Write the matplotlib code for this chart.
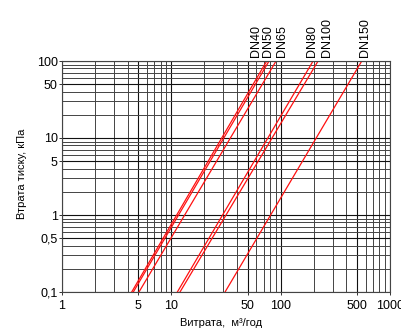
import matplotlib
matplotlib.use("Agg")
import matplotlib.pyplot as plt
from matplotlib.ticker import FixedLocator, LogLocator, NullFormatter

plt.rcParams["font.family"] = ["Liberation Sans", "DejaVu Sans"]

# data: flow (m3/h) at pressure drop 0.1 kPa and 100 kPa
dp = [0.1, 100]
names = ["DN40", "DN50", "DN65", "DN80", "DN100", "DN150"]
flow_lo = [4.34, 4.49, 5.06, 11.35, 12.0, 31.0]
flow_hi = [74.6, 78.3, 90.8, 198.0, 220.0, 552.0]

x_ticks = [1, 5, 10, 50, 100, 500, 1000]
x_labels = ["1", "5", "10", "50", "100", "500", "1000"]
y_ticks = [0.1, 0.5, 1, 5, 10, 50, 100]
y_labels = ["0,1", "0,5", "1", "5", "10", "50", "100"]

# where the DN captions sit (x, data units), spread apart to avoid overlap
label_x = [60, 77, 103, 193, 264, 592]

fig = plt.figure(figsize=(4.01, 3.36), dpi=100)
ax = fig.add_axes([62 / 401, 44 / 336, 328 / 401, 231 / 336])
ax.set_xscale("log")
ax.set_yscale("log")
ax.set_xlim(1, 1000)
ax.set_ylim(0.1, 100)

ax.xaxis.set_major_locator(FixedLocator(x_ticks))
ax.set_xticklabels(x_labels)
ax.yaxis.set_major_locator(FixedLocator(y_ticks))
ax.set_yticklabels(y_labels)
ax.xaxis.set_minor_locator(LogLocator(base=10, subs=range(2, 10)))
ax.yaxis.set_minor_locator(LogLocator(base=10, subs=range(2, 10)))
ax.xaxis.set_minor_formatter(NullFormatter())
ax.yaxis.set_minor_formatter(NullFormatter())

ax.grid(True, which="minor", color="#444444", linewidth=0.7)
ax.grid(True, which="major", color="#111111", linewidth=0.8)
ax.tick_params(which="major", length=2, width=0.7, labelsize=9, color="#333333")
ax.tick_params(axis="y", pad=1)
ax.tick_params(axis="x", pad=4)
ax.tick_params(which="minor", length=0)
for s in ax.spines.values():
    s.set_color("#444444")
    s.set_linewidth(0.8)

for name, lo, hi, lx in zip(names, flow_lo, flow_hi, label_x):
    ax.plot([lo, hi], dp, color="#ff1010", linewidth=0.9, clip_on=True)
    ax.annotate(name, xy=(lx, 1), xycoords=("data", "axes fraction"),
                xytext=(0, 3), textcoords="offset points",
                rotation=90, ha="center", va="bottom", fontsize=9)

fig.text(221 / 401, 1 - 323 / 336, "Витрата,  м³/год", ha="center", va="center", fontsize=8)
fig.text(22 / 401, 1 - 174 / 336, "Втрата тиску, кПа", rotation=90,
         ha="center", va="center", fontsize=8)

fig.savefig("out.png", dpi=100)
